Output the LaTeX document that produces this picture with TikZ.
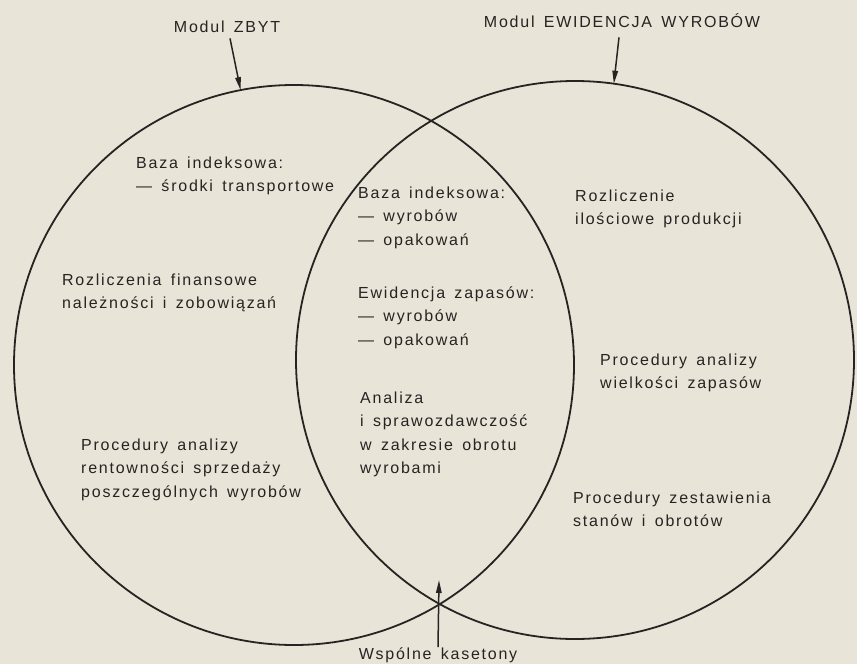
\documentclass[tikz,border=0pt]{standalone}
\usepackage{fontspec}
\setmainfont{Liberation Sans}[LetterSpace=11,WordSpace=1.5]
\usetikzlibrary{arrows.meta}
\definecolor{paper}{RGB}{233,228,216}
\definecolor{ink}{RGB}{38,36,34}
% left-aligned block of lines; its baseline is the baseline of the first line
\newcommand\stack[1]{\vtop{\baselineskip=23.5pt\lineskiplimit=-20pt\halign{##\hfil\cr#1\crcr}}}
\begin{document}
\begin{tikzpicture}[x=1pt,y=-1pt,
  font=\fontsize{16}{19}\selectfont, text=ink,
  txt/.style={anchor=base west, inner sep=0pt},
  lbl/.style={anchor=base, inner sep=0pt},
  ring/.style={circle, draw=ink, line width=1.8pt, inner sep=0pt, outer sep=0pt},
  pointer/.style={draw=ink, line width=1.5pt, -{Triangle[length=13pt,width=5.5pt]}}]
\fill[paper] (0,0) rectangle (857,664);
\path[use as bounding box] (0,0) rectangle (857,664);

% the two modules
\node[ring, minimum size=560pt] (zbyt) at (294,365) {};
\node[ring, minimum size=558pt] (ewid) at (575,360) {};

% module titles and their pointers
\node[lbl] (lzbyt) at (227,32) {Modul ZBYT};
\node[lbl] (lewid) at (622,27) {Modul EWIDENCJA WYROBÓW};
\draw[pointer] ([xshift=3pt,yshift=-6pt]lzbyt.south) -- (zbyt.101);
\draw[pointer] ([xshift=-3pt,yshift=-10pt]lewid.south) -- (ewid.82);

% shared part
\coordinate (kas) at (439,580);
\node[lbl] (wsp) at (438,659) {Wspólne kasetony};
\draw[pointer] (wsp.north) -- (kas);

% contents of module ZBYT
\node[txt] (bazaL) at (136,168) {\stack{Baza indeksowa:\cr — środki transportowe}};
\node[txt] (finL) at (62,285) {\stack{Rozliczenia finansowe\cr należności i zobowiązań}};
\node[txt] (rentL) at (81,450) {\stack{Procedury analizy\cr rentowności sprzedaży\cr poszczególnych wyrobów}};

% common contents
\node[txt] (bazaM) at (358,198) {\stack{Baza indeksowa:\cr — wyrobów\cr — opakowań}};
\node[txt] (zapM) at (358,298) {\stack{Ewidencja zapasów:\cr — wyrobów\cr — opakowań}};
\node[txt] (anM) at (360,403) {\stack{Analiza\cr i sprawozdawczość\cr w zakresie obrotu\cr wyrobami}};

% contents of module EWIDENCJA WYROBÓW
\node[txt] (prodR) at (575,201) {\stack{Rozliczenie\cr ilościowe produkcji}};
\node[txt] (zapR) at (600,365) {\stack{Procedury analizy\cr wielkości zapasów}};
\node[txt] (stanR) at (573,503) {\stack{Procedury zestawienia\cr stanów i obrotów}};
\end{tikzpicture}
\end{document}
